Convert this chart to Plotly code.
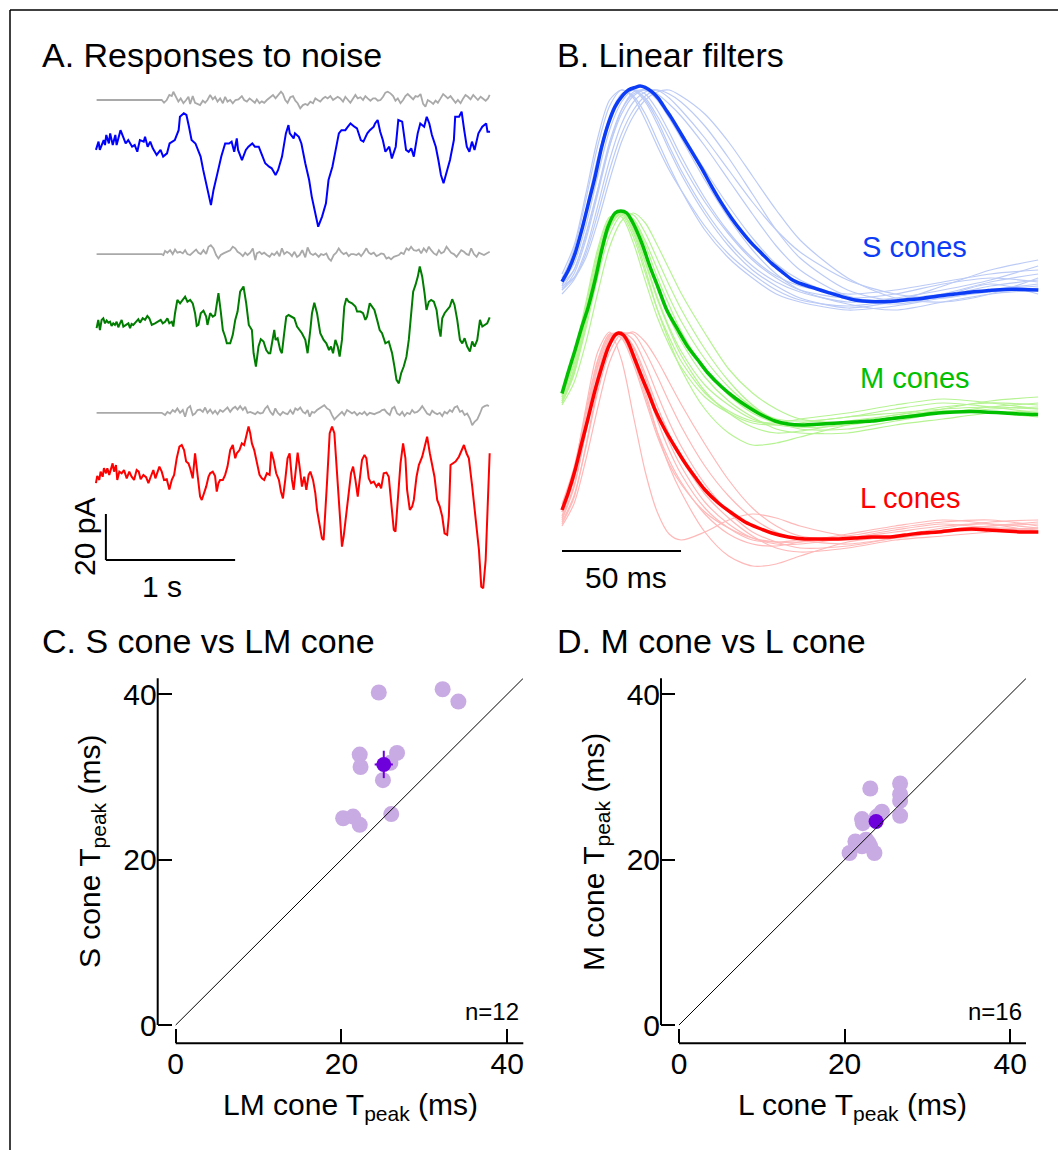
import plotly.graph_objects as go

W, H = 1058, 1150
FONT = "Liberation Sans, Arial, Helvetica, sans-serif"


def PX(px):
    return px / W


def PY(py):
    return 1 - py / H


# ---------------- Panel A: responses to noise (time in s, current in pA) ----------------
gray1_t = [0.005,0.509,0.527,0.548,0.568,0.587,0.599,0.620,0.638,0.656,0.677,0.698,0.716,0.729,0.749,0.767,0.786,0.806,0.827,0.845,0.863,0.884,0.904,0.922,0.941,0.961,0.982,1.000,1.018,1.039,1.059,1.080,1.103,1.129,1.147,1.168,1.189,1.209,1.230,1.245,1.266,1.284,1.302,1.323,1.349,1.370,1.390,1.413,1.432,1.447,1.465,1.483,1.504,1.525,1.543,1.561,1.581,1.602,1.620,1.638,1.659,1.680,1.698,1.716,1.736,1.757,1.775,1.793,1.814,1.835,1.853,1.871,1.891,1.912,1.930,1.948,1.969,1.990,2.008,2.026,2.047,2.067,2.085,2.103,2.124,2.145,2.163,2.181,2.202,2.222,2.240,2.258,2.279,2.300,2.318,2.336,2.357,2.377,2.395,2.413,2.434,2.455,2.473,2.491,2.512,2.532,2.550,2.568,2.589,2.610,2.628,2.646,2.667,2.687,2.705,2.723,2.744,2.765,2.783,2.801,2.822,2.842,2.860,2.879,2.899,2.920,2.938,2.956,2.977,2.997,3.016,3.034,3.047]
gray1_pA = [0,0,-1.2,0,2.2,1.7,3.6,1.4,-0.7,0.7,-1.4,0,1.4,-1.7,1.7,-1.2,-1.7,-2.2,-0.3,-1.2,0,2.2,0.3,1.4,-0.7,0.7,-1.4,1.4,-0.7,0,-1.4,0,0.3,1.7,0,-0.7,0.7,-0.3,-1.2,0.3,-1.4,-0.6,-1.2,0,1.2,2.2,0.7,2.2,3.6,2.6,0,-1.2,1.2,1.7,-0.3,-1.4,-3.6,-2.2,-1.7,-2.2,-0.7,-1.4,0.7,0,-0.7,0.7,1.4,0.7,1.7,0,0.7,1.4,0.7,-0.7,1.4,0,-1.2,0.7,2.2,0.7,1.2,0,1.7,0.7,-0.3,0.7,0.7,-0.3,0,1.4,3.2,3.6,2.9,1.7,-0.3,0.7,-1.4,0,1.7,2.6,1.4,0.3,1.7,1.4,2.6,-1.7,-2.9,0,-0.7,-1.7,-0.3,-1.2,0.7,2.6,1.7,0.7,1.7,0,-1.2,0,-1.4,0.7,2.2,1.4,0.3,2.2,1.2,0,1.4,0.3,-0.3,0.7,2.2]

blue_t = [0.00,0.02,0.03,0.06,0.07,0.08,0.10,0.11,0.13,0.15,0.16,0.19,0.20,0.23,0.25,0.28,0.30,0.32,0.34,0.37,0.38,0.40,0.42,0.44,0.47,0.50,0.52,0.55,0.57,0.61,0.64,0.65,0.68,0.70,0.72,0.74,0.77,0.78,0.81,0.83,0.85,0.87,0.89,0.91,0.94,0.97,1.00,1.03,1.05,1.07,1.09,1.10,1.13,1.16,1.18,1.21,1.23,1.26,1.28,1.31,1.34,1.36,1.39,1.41,1.44,1.47,1.49,1.50,1.53,1.54,1.57,1.59,1.62,1.65,1.67,1.70,1.72,1.75,1.78,1.80,1.83,1.85,1.88,1.90,1.93,1.95,1.97,2.00,2.02,2.05,2.07,2.10,2.12,2.15,2.16,2.18,2.20,2.22,2.24,2.27,2.29,2.32,2.34,2.37,2.40,2.42,2.44,2.46,2.49,2.51,2.54,2.56,2.58,2.60,2.63,2.65,2.67,2.69,2.72,2.74,2.77,2.78,2.81,2.83,2.85,2.87,2.89,2.91,2.93,2.96,2.99,3.02,3.03,3.05]
blue_pA = [-1.4,2.2,-1.4,2.9,0.7,5.1,1.4,5.8,0.7,5.1,0.7,7.2,5.8,1.4,2.9,0,0.7,-2.2,2.9,2.2,4.3,0,2.2,-0.7,-3.6,-1.4,-4.3,-2.9,1.4,2.9,7.2,13.0,14.5,13.8,8.7,2.9,1.4,0,-4.3,-10.1,-15.9,-20.3,-25.4,-18.8,-11.6,-4.3,1.4,1.4,2.2,-2.2,3.6,-1.4,-5.8,-1.4,0,1.4,0,0,-2.9,-7.2,-8.7,-9.4,-12.3,-10.1,-4.3,5.8,9.4,5.8,3.6,5.8,4.3,1.4,-7.2,-14.5,-21.7,-30.4,-34.8,-30.4,-24.6,-14.5,-8.7,-2.9,5.8,7.2,7.2,8.7,10.1,8.7,8.0,2.9,2.2,5.8,7.2,8.7,10.1,11.6,6.5,2.9,-2.2,0,-5.1,0,11.6,10.9,-1.4,-2.2,-0.7,-4.3,5.8,10.1,8.7,13.0,10.1,5.1,0,-5.8,-12.3,-15.9,-10.1,-5.8,2.9,13.0,13.0,15.2,7.2,0,-2.2,2.2,-1.4,5.8,8.7,10.1,6.5,6.5]

gray2_t = [0.005,0.509,0.522,0.535,0.553,0.574,0.594,0.612,0.630,0.651,0.672,0.690,0.708,0.729,0.755,0.775,0.793,0.811,0.832,0.853,0.871,0.889,0.910,0.930,0.948,0.966,0.987,1.013,1.039,1.059,1.078,1.096,1.116,1.137,1.155,1.173,1.194,1.214,1.233,1.245,1.266,1.284,1.302,1.323,1.344,1.362,1.380,1.401,1.421,1.439,1.457,1.478,1.499,1.517,1.535,1.556,1.576,1.597,1.620,1.638,1.659,1.680,1.698,1.724,1.742,1.762,1.783,1.801,1.819,1.840,1.860,1.879,1.897,1.917,1.938,1.956,1.974,1.995,2.016,2.034,2.052,2.072,2.093,2.111,2.129,2.150,2.171,2.189,2.207,2.227,2.248,2.266,2.284,2.305,2.326,2.344,2.362,2.382,2.403,2.421,2.439,2.460,2.481,2.499,2.517,2.537,2.558,2.576,2.594,2.615,2.636,2.654,2.672,2.693,2.713,2.731,2.749,2.770,2.791,2.809,2.827,2.848,2.868,2.886,2.904,2.925,2.946,2.964,2.982,3.003,3.023,3.047]
gray2_pA = [0,0,-0.4,1.4,0.6,1.7,0,2.0,0.6,1.0,0.3,1.7,0,-0.4,1.0,2.0,0.6,0,1.7,0,3.2,3.9,2.5,-0.4,-1.9,-0.4,0.3,1.0,1.7,3.2,2.5,1.0,0.3,-0.9,0.6,-0.4,0.6,2.5,-2.6,0.3,1.0,0,0.6,-0.4,-1.2,0.3,-0.4,1.0,-0.9,2.5,0,1.0,0.3,-0.9,1.0,-1.2,-0.4,1.7,-1.4,2.9,0.3,-0.4,0.3,-1.2,0,-0.4,0.3,-1.9,-2.9,-0.4,0.6,2.5,1.0,0,0.6,-0.9,0,0,-0.4,0.3,-0.9,0.6,2.5,0.6,0,0.6,-0.9,-0.4,0.3,0,-1.9,-1.4,-2.3,-1.2,-0.9,-0.4,0.6,0,2.5,1.7,3.2,1.7,1.4,2.0,0.3,2.5,1.0,3.2,1.7,0.3,-0.4,1.7,0.3,1.0,3.2,1.7,0.6,0,-1.2,0.3,1.7,1.0,0,-0.4,2.5,0,-1.2,0.6,0,-0.4,0.3,1.0]

green_t = [0.005,0.018,0.031,0.044,0.057,0.070,0.083,0.096,0.109,0.121,0.134,0.147,0.160,0.173,0.186,0.199,0.212,0.238,0.251,0.264,0.276,0.289,0.315,0.328,0.341,0.362,0.380,0.398,0.413,0.432,0.457,0.483,0.501,0.517,0.535,0.553,0.568,0.587,0.599,0.612,0.630,0.651,0.672,0.690,0.708,0.729,0.749,0.767,0.780,0.793,0.811,0.832,0.853,0.863,0.884,0.904,0.922,0.948,0.966,0.982,1.000,1.013,1.039,1.059,1.078,1.096,1.116,1.142,1.163,1.183,1.207,1.220,1.238,1.258,1.276,1.297,1.318,1.336,1.349,1.370,1.380,1.390,1.406,1.426,1.439,1.457,1.473,1.491,1.517,1.535,1.556,1.576,1.594,1.620,1.638,1.659,1.672,1.690,1.711,1.736,1.762,1.783,1.804,1.819,1.835,1.853,1.871,1.886,1.904,1.922,1.938,1.956,1.982,2.008,2.021,2.047,2.067,2.085,2.098,2.119,2.137,2.155,2.176,2.196,2.214,2.240,2.266,2.292,2.310,2.326,2.344,2.362,2.382,2.403,2.421,2.439,2.455,2.473,2.491,2.506,2.525,2.543,2.558,2.576,2.594,2.615,2.636,2.654,2.667,2.680,2.698,2.718,2.739,2.757,2.775,2.796,2.817,2.835,2.853,2.873,2.894,2.912,2.930,2.951,2.972,2.990,3.008,3.028,3.047]
green_pA = [-1.4,2.2,-2.2,2.2,2.9,0.7,1.9,1.0,1.4,-0.4,0.7,0,1.4,-1.0,0.7,2.2,-0.7,0,0.7,-1.4,0.4,0,1.4,2.5,1.0,2.9,2.2,3.9,2.9,0,0.7,1.4,2.2,0.7,1.4,2.9,0.7,1.4,-0.7,5.1,10.9,9.4,11.2,12.3,10.1,10.9,9.4,5.1,-0.4,0,5.1,6.2,3.6,0,5.1,3.6,4.3,13.8,5.8,-2.2,-5.1,-8.0,-8.0,-4.3,2.2,5.8,14.5,16.7,9.4,0,-2.2,-12.3,-18.1,-9.4,-6.2,-7.2,-10.9,-12.3,-12.3,-6.5,-2.2,-6.5,-5.8,-10.9,-12.3,-3.6,3.6,4.3,3.6,2.9,-0.7,-2.2,-3.6,-6.5,-12.3,-2.2,5.1,9.7,5.1,-3.6,-6.5,-8.0,-10.9,-9.4,-12.3,-6.5,-9.4,-13.8,-6.5,8.0,11.6,10.1,9.4,8.0,5.8,5.8,5.1,2.2,3.6,9.4,8.0,6.5,2.2,-2.2,-3.6,-8.0,-7.2,-12.3,-18.1,-23.9,-25.4,-21.0,-18.1,-13.8,-6.5,5.1,14.5,17.4,21.0,25.4,21.0,13.8,6.5,10.1,10.9,10.1,6.5,-1.4,-5.1,2.9,5.1,6.5,8.0,11.2,8.7,2.2,-6.5,-8.0,-5.8,-9.4,-11.6,-7.2,-9.4,-6.5,2.2,-0.7,0,0.7,3.3]

gray3_t = [0.005,0.509,0.535,0.553,0.574,0.594,0.612,0.630,0.651,0.672,0.690,0.708,0.729,0.749,0.767,0.786,0.806,0.827,0.845,0.863,0.884,0.904,0.922,0.941,0.961,0.982,1.000,1.018,1.039,1.059,1.078,1.096,1.116,1.137,1.155,1.173,1.194,1.214,1.233,1.251,1.271,1.292,1.310,1.328,1.349,1.370,1.388,1.406,1.426,1.447,1.465,1.483,1.504,1.525,1.543,1.561,1.581,1.602,1.620,1.638,1.654,1.672,1.690,1.711,1.731,1.749,1.767,1.788,1.809,1.827,1.845,1.866,1.886,1.904,1.922,1.943,1.964,1.982,2.000,2.021,2.041,2.059,2.078,2.098,2.119,2.137,2.155,2.176,2.196,2.214,2.233,2.253,2.274,2.292,2.310,2.331,2.351,2.370,2.388,2.408,2.429,2.447,2.465,2.486,2.506,2.525,2.543,2.563,2.584,2.602,2.620,2.641,2.661,2.680,2.698,2.718,2.739,2.757,2.775,2.796,2.817,2.835,2.853,2.873,2.894,2.912,2.930,2.951,2.972,2.990,3.008,3.028,3.041]
gray3_pA = [0,0,-1.0,0.4,-0.3,1.2,0.4,1.9,0,1.2,-1.7,1.9,2.9,-1.0,-0.3,1.2,1.4,0.4,2.3,0,1.4,-0.3,0.9,-0.6,1.2,0.4,1.4,2.3,0.4,1.9,2.6,1.4,2.9,1.2,2.6,0,0.4,-0.3,-0.6,0.4,-0.3,0,1.9,2.9,0.4,-1.0,1.9,0,-1.0,0.4,-0.3,-0.6,1.2,-0.6,1.9,1.2,2.3,0.4,-0.3,1.2,-1.7,0.4,0,1.2,1.9,2.6,3.3,1.9,1.2,-1.0,-2.9,-1.7,-0.6,0.4,-1.0,1.2,0.4,-0.3,0.4,-1.0,0,-0.6,0.4,-1.0,0,-0.3,-0.6,0,0.4,1.2,1.4,0,-1.0,1.9,2.6,-0.3,-1.0,0.4,-1.4,0,-0.6,1.2,0,0.4,1.4,2.9,1.2,-0.3,-1.0,0.9,0,-0.6,0,-1.4,0.4,-0.3,1.2,0.4,2.3,2.9,0.4,0.9,-1.0,-0.3,-2.5,-5.4,-3.9,-2.9,-0.3,2.3,2.9,3.3,2.9]

red_t = [0.000,0.010,0.026,0.036,0.052,0.062,0.078,0.088,0.103,0.114,0.129,0.140,0.155,0.165,0.181,0.199,0.217,0.238,0.258,0.276,0.295,0.315,0.331,0.346,0.367,0.388,0.406,0.424,0.444,0.460,0.475,0.491,0.509,0.527,0.548,0.568,0.587,0.605,0.625,0.646,0.664,0.682,0.698,0.716,0.729,0.749,0.767,0.780,0.793,0.806,0.819,0.837,0.853,0.871,0.884,0.904,0.922,0.935,0.948,0.961,0.982,1.000,1.018,1.039,1.059,1.078,1.090,1.111,1.129,1.147,1.163,1.181,1.194,1.207,1.225,1.245,1.266,1.284,1.302,1.323,1.344,1.357,1.375,1.395,1.416,1.432,1.447,1.465,1.483,1.499,1.517,1.530,1.550,1.561,1.576,1.594,1.612,1.628,1.646,1.659,1.680,1.698,1.711,1.731,1.749,1.762,1.775,1.788,1.809,1.827,1.845,1.866,1.886,1.904,1.917,1.938,1.956,1.974,1.990,2.008,2.026,2.041,2.059,2.078,2.093,2.111,2.129,2.150,2.171,2.189,2.207,2.227,2.248,2.266,2.279,2.292,2.305,2.318,2.336,2.357,2.377,2.395,2.408,2.429,2.447,2.460,2.481,2.499,2.525,2.550,2.563,2.584,2.602,2.620,2.641,2.661,2.680,2.698,2.718,2.731,2.744,2.765,2.783,2.809,2.827,2.848,2.868,2.886,2.912,2.930,2.951,2.964,2.982,2.997,3.016,3.034,3.047]
red_pA = [-1.4,1.7,0,3.6,1.4,5.1,2.9,5.1,2.2,4.3,7.2,3.6,6.5,0,3.6,2.9,4.3,0.7,3.6,1.4,0,4.3,3.6,0.3,2.2,1.2,-1.4,1.4,4.3,0.7,3.6,5.8,3.6,0,0.3,-4.1,0,2.2,9.4,14.5,15.2,13.0,8.0,7.2,5.1,0.7,11.6,5.8,-1.4,-7.2,-8.7,-5.8,-2.9,1.4,2.9,3.6,1.7,-5.1,-1.4,0,0,2.2,5.8,13.0,15.2,9.4,11.6,13.0,15.9,15.2,18.8,23.2,20.3,15.9,13.0,8.0,2.2,0.7,0,2.9,2.2,12.3,8.7,2.9,0,-5.1,-8.0,0,9.4,11.6,0,-4.3,7.2,11.9,5.8,-2.9,1.4,-4.3,2.2,3.6,0,-5.8,-13.0,-18.8,-25.4,-26.1,-15.9,-1.4,20.3,23.2,20.3,1.4,-14.5,-29.0,-24.6,-13.0,-5.8,2.9,5.8,0,-7.2,0,8.7,10.9,9.4,0.7,-1.4,-0.7,-2.9,-1.4,-3.6,2.9,3.2,1.4,-7.2,-13.0,-21.7,-22.5,-10.1,7.2,15.9,9.4,-4.3,-13.0,-11.6,-8.7,1.4,6.5,10.1,15.9,18.8,11.6,5.8,1.4,-8.7,-11.6,-15.9,-23.2,-23.9,-15.9,6.5,7.2,8.0,10.1,12.3,15.2,11.6,9.4,-2.9,-13.0,-26.1,-30.4,-46.4,-47.1,-34.8,-5.8,11.6]

# ---------------- Panel B: linear filters (time in ms, normalised amplitude) ----------------
S_t = [0,2.7,5.5,8.3,11.1,13.9,16.7,19.5,22.3,25.1,27.9,30.7,32.8,34.9,37.7,40.5,43.3,46.1,50.3,54.5,58.7,62.9,67.1,71.3,75.5,79.7,83.9,88.1,92.3,96.5,100.7,106.3,111.9,117.5,123.1,130.1,137.1,144.1,151.1,158.1,165.1,172.1,179.1,186.1,193.1,200.1]
S_mean = [0.042,0.10,0.183,0.30,0.433,0.567,0.717,0.833,0.917,0.967,1.0,1.013,1.02,1.013,0.992,0.958,0.908,0.858,0.775,0.692,0.608,0.517,0.433,0.358,0.292,0.233,0.183,0.133,0.092,0.053,0.03,0.008,-0.013,-0.033,-0.05,-0.058,-0.058,-0.05,-0.042,-0.03,-0.02,-0.01,-0.003,0.003,0.003,0.0]
M_t = [0,2.5,5.5,8.3,10.9,13.9,16.7,19.3,22.3,24.7,27.2,29.8,33.5,37.0,40.3,44.0,48.7,52.9,57.1,61.3,67.1,72.7,78.2,83.9,89.5,95.0,100.7,109.1,116.0,123.1,130.1,137.0,144.1,151.1,158.0,165.1,172.1,179.0,186.1,193.2,200.0]
M_mean = [0.098,0.2,0.315,0.43,0.525,0.665,0.815,0.93,1.0,1.01,1.0,0.95,0.85,0.73,0.63,0.515,0.415,0.33,0.265,0.2,0.13,0.075,0.03,-0.01,-0.04,-0.055,-0.06,-0.055,-0.05,-0.045,-0.04,-0.03,-0.02,-0.01,0,0.005,0.007,0.004,0,-0.005,-0.008]
L_t = [0,2.6,5.5,8.3,11.1,13.9,16.7,19.5,22.3,23.7,25.8,27.9,30.7,33.5,36.3,39.1,43.3,47.5,51.7,55.9,60.1,65.7,71.3,76.9,82.5,88.1,95.1,102.1,109.1,116.1,123.1,130.1,137.1,144.1,151.1,158.1,165.1,172.1,179.1,186.1,193.2,200.1]
L_mean = [0.11,0.195,0.31,0.445,0.575,0.71,0.825,0.925,0.985,0.995,0.985,0.945,0.86,0.775,0.695,0.61,0.51,0.425,0.345,0.275,0.21,0.145,0.095,0.05,0.02,-0.005,-0.025,-0.035,-0.035,-0.035,-0.03,-0.025,-0.025,-0.015,-0.005,0,0.01,0.015,0.01,0.005,0,0]

cell_t = [0,5,10,15,20,25,30,35,40,45,50,60,70,80,90,100,120,140,160,180,200]
S_cells = [
    [0.05,0.2,0.45,0.72,0.92,1.0,0.96,0.85,0.72,0.6,0.5,0.32,0.18,0.08,0.0,-0.05,-0.08,-0.05,-0.02,0.0,0.02],
    [0.02,0.15,0.38,0.65,0.87,0.98,1.0,0.94,0.83,0.7,0.58,0.38,0.22,0.1,0.02,-0.04,-0.09,-0.06,-0.03,0.02,0.05],
    [0.0,0.08,0.25,0.48,0.72,0.9,0.99,1.0,0.95,0.86,0.76,0.55,0.36,0.2,0.08,0.0,-0.07,-0.1,-0.06,-0.02,0.0],
    [0.03,0.1,0.28,0.5,0.72,0.88,0.97,1.0,0.98,0.93,0.87,0.72,0.55,0.38,0.22,0.1,-0.03,-0.06,-0.02,0.04,0.08],
    [-0.02,0.05,0.18,0.38,0.6,0.78,0.9,0.97,1.0,0.98,0.94,0.82,0.66,0.48,0.3,0.16,0.0,-0.05,0.02,0.1,0.15],
    [0.06,0.18,0.4,0.66,0.86,0.97,1.0,0.96,0.87,0.76,0.64,0.44,0.28,0.15,0.06,0.0,-0.04,-0.02,0.03,0.06,0.04],
    [0.0,0.06,0.2,0.42,0.65,0.83,0.94,0.99,1.0,0.96,0.9,0.76,0.6,0.44,0.3,0.19,0.05,-0.02,-0.04,0.0,0.03],
    [0.04,0.13,0.32,0.57,0.8,0.94,1.0,0.98,0.9,0.79,0.67,0.46,0.29,0.16,0.07,0.02,-0.02,0.0,0.04,0.08,0.1],
    [0.08,0.22,0.48,0.76,0.95,1.0,0.97,0.88,0.75,0.62,0.5,0.3,0.16,0.06,-0.02,-0.06,-0.1,-0.08,-0.04,-0.01,0.01],
    [0.01,0.1,0.27,0.5,0.74,0.9,0.98,1.0,0.96,0.88,0.79,0.6,0.42,0.26,0.13,0.05,-0.04,-0.07,-0.03,0.03,-0.02],
    [0.02,0.06,0.16,0.34,0.55,0.74,0.87,0.95,0.99,1.0,0.97,0.88,0.74,0.57,0.4,0.25,0.06,-0.04,-0.06,-0.02,0.06],
    [0.05,0.17,0.38,0.62,0.84,0.96,1.0,0.95,0.85,0.72,0.6,0.4,0.24,0.12,0.04,-0.01,-0.06,-0.04,0.0,0.05,0.12],
]
M_cells = [
    [0.08,0.28,0.55,0.82,0.98,0.98,0.85,0.66,0.48,0.34,0.23,0.08,0.0,-0.05,-0.06,-0.05,-0.02,0.0,0.02,0.03,0.02],
    [0.06,0.22,0.48,0.76,0.95,1.0,0.92,0.76,0.58,0.43,0.31,0.14,0.04,-0.03,-0.06,-0.07,-0.04,-0.01,0.03,0.05,0.04],
    [0.05,0.2,0.44,0.72,0.92,1.0,0.96,0.84,0.68,0.54,0.41,0.22,0.09,0.0,-0.05,-0.07,-0.06,-0.02,0.01,0.0,-0.02],
    [0.07,0.2,0.42,0.68,0.89,0.99,0.99,0.9,0.77,0.64,0.52,0.32,0.16,0.04,-0.04,-0.08,-0.08,-0.04,0.0,0.03,0.05],
    [0.09,0.25,0.5,0.78,0.96,1.0,0.9,0.72,0.52,0.36,0.22,0.02,-0.1,-0.16,-0.15,-0.12,-0.06,-0.02,0.0,0.02,0.03],
    [0.04,0.15,0.35,0.6,0.83,0.96,1.0,0.95,0.84,0.72,0.6,0.4,0.22,0.1,0.02,-0.03,-0.05,-0.03,0.02,0.06,0.08],
    [0.1,0.27,0.53,0.8,0.97,0.99,0.88,0.7,0.52,0.38,0.26,0.1,0.01,-0.04,-0.05,-0.03,0.0,0.04,0.07,0.05,0.02],
    [0.05,0.19,0.45,0.74,0.94,1.0,0.94,0.8,0.63,0.48,0.36,0.18,0.06,-0.02,-0.08,-0.1,-0.1,-0.06,-0.03,0.0,0.01],
    [0.06,0.21,0.46,0.73,0.93,1.0,0.97,0.86,0.72,0.58,0.46,0.27,0.13,0.03,-0.03,-0.04,-0.02,0.02,0.05,0.03,0.0],
    [0.08,0.24,0.5,0.77,0.95,1.0,0.91,0.75,0.57,0.42,0.29,0.11,0.0,-0.07,-0.1,-0.09,-0.05,-0.01,0.01,0.0,-0.01],
]
L_cells = [
    [0.1,0.3,0.62,0.9,1.0,0.86,0.58,0.3,0.1,-0.01,-0.04,0.0,0.06,0.09,0.07,0.03,-0.02,-0.03,0.0,0.02,0.01],
    [0.12,0.3,0.58,0.85,0.99,0.97,0.84,0.66,0.48,0.34,0.24,0.1,0.02,-0.03,-0.05,-0.05,-0.03,0.0,0.03,0.04,0.02],
    [0.06,0.22,0.5,0.78,0.96,1.0,0.92,0.77,0.6,0.45,0.33,0.15,0.04,-0.03,-0.06,-0.06,-0.03,0.01,0.04,0.02,0.0],
    [0.05,0.18,0.42,0.7,0.9,0.99,0.99,0.9,0.78,0.65,0.53,0.33,0.18,0.07,0.0,-0.04,-0.06,-0.03,0.0,0.03,0.05],
    [0.08,0.26,0.54,0.82,0.98,0.99,0.88,0.7,0.5,0.33,0.2,0.0,-0.12,-0.17,-0.16,-0.12,-0.05,-0.02,0.0,0.01,0.02],
    [0.03,0.14,0.36,0.62,0.85,0.97,1.0,0.95,0.86,0.75,0.64,0.44,0.26,0.12,0.03,-0.02,-0.04,-0.02,0.02,0.05,0.06],
    [0.14,0.32,0.6,0.86,0.99,0.98,0.86,0.68,0.5,0.36,0.25,0.09,-0.01,-0.06,-0.07,-0.05,-0.01,0.03,0.06,0.04,0.0],
    [0.07,0.23,0.5,0.79,0.97,1.0,0.93,0.79,0.63,0.49,0.37,0.19,0.07,-0.02,-0.08,-0.1,-0.08,-0.04,-0.02,0.0,0.02],
    [0.1,0.27,0.55,0.83,0.98,1.0,0.9,0.74,0.56,0.41,0.29,0.12,0.02,-0.04,-0.05,-0.04,-0.02,0.02,0.05,0.06,0.03],
    [0.04,0.17,0.43,0.72,0.93,1.0,0.96,0.84,0.69,0.55,0.43,0.24,0.1,0.0,-0.05,-0.08,-0.07,-0.03,0.01,0.03,0.04],
]

# ---------------- Panels C and D: time to peak (ms) ----------------
C_lm_tpeak = [24.5,32.2,34.1,22.2,26.7,22.3,25.9,25.0,20.2,21.4,22.2,26.0]
C_s_tpeak = [40.2,40.6,39.1,32.7,32.9,31.2,31.7,29.6,25.0,25.2,24.2,25.5]
C_mean = [25.1, 31.5]
C_sem = [1.1, 1.65]
D_l_tpeak = [23.1,26.7,26.7,26.7,26.7,24.5,22.1,22.2,21.3,22.6,22.9,20.6,23.6,23.1,22.1,23.9]
D_m_tpeak = [28.6,29.2,27.9,27.1,25.3,25.8,24.9,24.4,22.2,22.4,22.0,20.8,20.8,21.6,21.6,25.2]
D_mean = [23.8, 24.6]
D_sem = [0.6, 0.7]
axis_ticks = [0, 20, 40]

# ---------------- styling ----------------
GRAY = "#a9a9a9"
A_BLUE, A_GREEN, A_RED = "#0000ff", "#007d00", "#ff0000"
S_DARK, S_LIGHT = "#0d3cf7", "#bccbf6"
M_DARK, M_LIGHT = "#00c000", "#b6f393"
L_DARK, L_LIGHT = "#ff0000", "#ffb8b8"
P_LIGHT, P_DARK = "#c9abe3", "#6e00dc"

A_offsets = {"gray1": -8.7, "blue": -29.0, "gray2": -75.7, "green": -106.5, "gray3": -144.7, "red": -173.9}
B_offsets = {"S": 0.0, "M": -0.615, "L": -1.21}

fig = go.Figure()


def add_line(x, y, color, width, xa, ya, shape="linear", off=0.0):
    fig.add_trace(go.Scatter(
        x=x, y=[v + off for v in y], mode="lines",
        line=dict(color=color, width=width, shape=shape, smoothing=0.8 if shape == "spline" else None),
        xaxis=xa, yaxis=ya, hoverinfo="skip", showlegend=False))


# Panel A
add_line(gray1_t, gray1_pA, GRAY, 1.8, "x", "y", off=A_offsets["gray1"])
add_line(blue_t, blue_pA, A_BLUE, 2, "x", "y", off=A_offsets["blue"])
add_line(gray2_t, gray2_pA, GRAY, 1.8, "x", "y", off=A_offsets["gray2"])
add_line(green_t, green_pA, A_GREEN, 2, "x", "y", off=A_offsets["green"])
add_line(gray3_t, gray3_pA, GRAY, 1.8, "x", "y", off=A_offsets["gray3"])
add_line(red_t, red_pA, A_RED, 2, "x", "y", off=A_offsets["red"])

# Panel B
for cell in S_cells:
    add_line(cell_t, cell, S_LIGHT, 1.2, "x2", "y2", "spline", B_offsets["S"])
add_line(S_t, S_mean, S_DARK, 3.5, "x2", "y2", "spline", B_offsets["S"])
for cell in M_cells:
    add_line(cell_t, cell, M_LIGHT, 1.2, "x2", "y2", "spline", B_offsets["M"])
add_line(M_t, M_mean, M_DARK, 3.5, "x2", "y2", "spline", B_offsets["M"])
for cell in L_cells:
    add_line(cell_t, cell, L_LIGHT, 1.2, "x2", "y2", "spline", B_offsets["L"])
add_line(L_t, L_mean, L_DARK, 3.5, "x2", "y2", "spline", B_offsets["L"])

# Panels C and D
for xs, ys, mean, sem, xa, ya in [(C_lm_tpeak, C_s_tpeak, C_mean, C_sem, "x3", "y3"),
                                  (D_l_tpeak, D_m_tpeak, D_mean, D_sem, "x4", "y4")]:
    fig.add_trace(go.Scatter(x=xs, y=ys, mode="markers", marker=dict(size=16, color=P_LIGHT),
                             xaxis=xa, yaxis=ya, hoverinfo="skip", showlegend=False, cliponaxis=False))
    fig.add_trace(go.Scatter(x=[mean[0]], y=[mean[1]], mode="markers",
                             marker=dict(size=15, color=P_DARK),
                             error_x=dict(type="data", array=[sem[0]], color=P_DARK, thickness=2, width=0),
                             error_y=dict(type="data", array=[sem[1]], color=P_DARK, thickness=2, width=0),
                             xaxis=xa, yaxis=ya, hoverinfo="skip", showlegend=False, cliponaxis=False))

hidden = dict(visible=False, showgrid=False, zeroline=False)
tick_style = dict(showline=False, ticks="inside", ticklen=14, tickwidth=2, tickcolor="black",
                  tickvals=axis_ticks, showgrid=False, zeroline=False,
                  tickfont=dict(family=FONT, size=30, color="black"))

shapes = []
BLACK = dict(color="black", width=2)
# frame
shapes.append(dict(type="line", xref="paper", yref="paper", x0=PX(10), x1=1, y0=PY(10), y1=PY(10), line=dict(color="black", width=1.5)))
shapes.append(dict(type="line", xref="paper", yref="paper", x0=PX(10), x1=PX(10), y0=PY(10), y1=0, line=dict(color="black", width=1.5)))
# scale bars
shapes.append(dict(type="line", xref="x", yref="y", x0=0.077, x1=0.077, y0=-188.7, y1=-208.7, line=BLACK))
shapes.append(dict(type="line", xref="x", yref="y", x0=0.077, x1=1.077, y0=-208.7, y1=-208.7, line=BLACK))
shapes.append(dict(type="line", xref="x2", yref="y2", x0=0, x1=50, y0=-1.305, y1=-1.305, line=BLACK))
# detached axis lines and unity lines
for (xl, xr, yb, yt, xa, ya) in [(157.7, 523.3, 1043.3, 678.3, "x3", "y3"), (661, 1026, 1043.3, 678.3, "x4", "y4")]:
    x0px = xl + 18
    y0px = yb - 18.3
    shapes.append(dict(type="line", xref="paper", yref="paper", x0=PX(x0px), x1=PX(xr), y0=PY(yb), y1=PY(yb), line=BLACK))
    shapes.append(dict(type="line", xref="paper", yref="paper", x0=PX(xl), x1=PX(xl), y0=PY(y0px), y1=PY(yt), line=BLACK))
    shapes.append(dict(type="line", xref=xa, yref=ya, x0=0, y0=0, x1=41.9, y1=41.9, line=dict(color="black", width=1)))

annotations = []


def ann(text, px, py, size, color="black", xanchor="left", angle=0):
    annotations.append(dict(text=text, x=PX(px), y=PY(py), xref="paper", yref="paper",
                            xanchor=xanchor, yanchor="middle", showarrow=False, textangle=angle,
                            font=dict(family=FONT, size=size, color=color)))


ann("A. Responses to noise", 40, 55, 34)
ann("B. Linear filters", 555, 55, 34)
ann("C. S cone vs LM cone", 40, 641, 34)
ann("D. M cone vs L cone", 555, 641, 34)
ann("20 pA", 84, 537, 30, angle=-90, xanchor="center")
ann("1 s", 162, 586, 30, xanchor="center")
ann("50 ms", 626, 577, 30, xanchor="center")
ann("S cones", 860, 247, 29, S_DARK)
ann("M cones", 858, 378, 29, M_DARK)
ann("L cones", 858, 498, 29, L_DARK)
ann("n=12", 521, 1011, 24, xanchor="right")
ann("n=16", 1024, 1011, 24, xanchor="right")
ann("LM cone T<sub>peak</sub> (ms)", 350, 1106, 30, xanchor="center")
ann("L cone T<sub>peak</sub> (ms)", 852, 1106, 30, xanchor="center")
ann("S cone T<sub>peak</sub> (ms)", 91, 852, 30, angle=-90, xanchor="center")
ann("M cone T<sub>peak</sub> (ms)", 595, 852, 30, angle=-90, xanchor="center")

fig.update_layout(
    width=W, height=H, margin=dict(l=0, r=0, t=0, b=0),
    paper_bgcolor="white", plot_bgcolor="rgba(0,0,0,0)",
    font=dict(family=FONT, color="black"),
    xaxis=dict(domain=[PX(90), PX(496)], range=[-0.046, 3.096], anchor="y", **hidden),
    yaxis=dict(domain=[PY(600), PY(80)], range=[-226.1, 0], anchor="x", **hidden),
    xaxis2=dict(domain=[PX(556), PX(1045)], range=[-2.52, 202.9], anchor="y2", **hidden),
    yaxis2=dict(domain=[PY(600), PY(80)], range=[-1.55, 1.05], anchor="x2", **hidden),
    xaxis3=dict(domain=[PX(157.7), PX(523.3)], range=[-2.17, 41.93], anchor="y3", **tick_style),
    yaxis3=dict(domain=[PY(1043.3), PY(678.3)], range=[-2.21, 41.92], anchor="x3", **tick_style),
    xaxis4=dict(domain=[PX(661), PX(1026)], range=[-2.17, 41.9], anchor="y4", **tick_style),
    yaxis4=dict(domain=[PY(1043.3), PY(678.3)], range=[-2.21, 41.92], anchor="x4", **tick_style),
    shapes=shapes, annotations=annotations,
)

fig.write_html("out.html")
